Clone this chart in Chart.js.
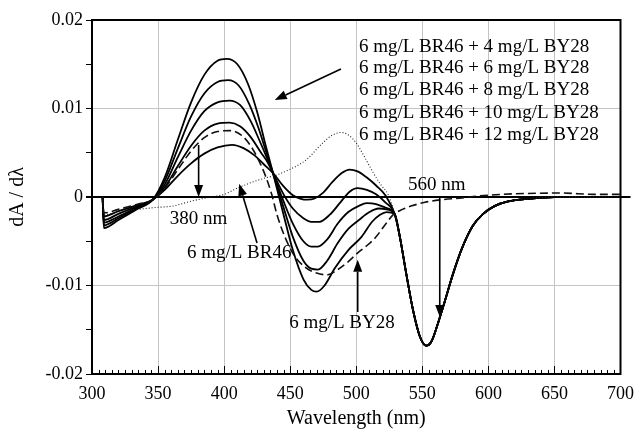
<!DOCTYPE html>
<html>
<head>
  <title>dA/dλ derivative spectra</title>
  <script src="https://cdn.jsdelivr.net/npm/chart.js"></script>
  <style>
    body { margin: 0; background: #fff; }
    canvas { display: block; }
  </style>
</head>
<body>
  <canvas id="spectra" width="643" height="431"></canvas>
  <script>
    // derivative spectra (x = wavelength nm, y = dA/dλ)
    const wlTicks = [300, 350, 400, 450, 500, 550, 600, 650, 700];
    const yTicks = [-0.02, -0.01, 0, 0.01, 0.02];

    // shared part of all BR46-containing curves past ~530 nm
    const tailWl  = [533, 538, 543, 548, 553, 557, 562, 567, 573, 580, 588, 596, 605, 615, 630, 650, 700];
    const tailVal = [-0.0045, -0.0088, -0.0128, -0.0157, -0.0168, -0.0163, -0.0142, -0.0118, -0.0088, -0.0058, -0.0033, -0.0019, -0.0010, -0.0005, -0.0002, 0, 0];

    const mix4Wl  = [308, 309, 320, 335, 346, 355, 365, 375, 385, 395, 406, 415, 423, 430, 437, 445, 452, 458, 463, 468, 475, 482, 489, 495, 501, 508, 515, 522, 529];
    const mix4Val = [0, -0.0022, -0.0016, -0.0009, -0.0003, 0.0008, 0.0024, 0.0038, 0.0049, 0.0056, 0.0059, 0.0055, 0.0047, 0.0037, 0.0027, 0.0012, 0.0002, -0.0002, -0.0003, -0.0002, 0.0005, 0.0017, 0.0027, 0.0031, 0.0029, 0.0022, 0.0013, 0.0002, -0.0019];

    const mix6Wl  = [308, 309, 320, 335, 346, 355, 365, 375, 385, 395, 404, 412, 420, 428, 433, 437, 445, 452, 460, 466, 472, 480, 488, 495, 501, 508, 515, 522, 529];
    const mix6Val = [0, -0.0026, -0.0019, -0.0010, -0.0003, 0.0011, 0.0035, 0.0058, 0.0075, 0.0083, 0.0084, 0.0080, 0.0068, 0.0050, 0.0039, 0.0027, 0.0003, -0.0013, -0.0024, -0.0028, -0.0028, -0.0020, -0.0006, 0.0006, 0.0010, 0.0008, 0.0003, -0.0006, -0.0019];

    const mix8Wl  = [308, 309, 320, 335, 346, 355, 365, 375, 385, 395, 404, 412, 420, 427, 433, 437, 445, 452, 460, 466, 471, 478, 486, 494, 502, 508, 515, 522, 529];
    const mix8Val = [0, -0.0029, -0.0022, -0.0011, -0.0003, 0.0014, 0.0045, 0.0075, 0.0097, 0.0107, 0.0109, 0.0104, 0.0086, 0.0063, 0.0042, 0.0027, -0.0005, -0.0030, -0.0050, -0.0056, -0.0056, -0.0048, -0.0030, -0.0017, -0.0010, -0.0007, -0.0008, -0.0012, -0.0019];

    const mix10Wl  = [308, 309, 320, 335, 346, 355, 365, 375, 385, 395, 403, 411, 419, 426, 432, 437, 445, 452, 460, 466, 471, 478, 486, 494, 502, 510, 517, 523, 529];
    const mix10Val = [0, -0.0032, -0.0024, -0.0012, -0.0003, 0.0018, 0.0055, 0.0091, 0.0117, 0.0130, 0.0132, 0.0126, 0.0105, 0.0078, 0.0050, 0.0027, -0.0012, -0.0045, -0.0072, -0.0081, -0.0082, -0.0072, -0.0052, -0.0036, -0.0026, -0.0017, -0.0013, -0.0014, -0.0019];

    const mix12Wl  = [308, 309, 320, 335, 346, 355, 365, 375, 385, 395, 402, 410, 418, 425, 432, 437, 445, 452, 460, 466, 470, 476, 484, 494, 504, 512, 518, 523, 529];
    const mix12Val = [0, -0.0035, -0.0026, -0.0013, -0.0003, 0.0022, 0.0065, 0.0107, 0.0138, 0.0154, 0.0156, 0.0150, 0.0128, 0.0096, 0.0055, 0.0027, -0.0020, -0.0060, -0.0093, -0.0105, -0.0107, -0.0100, -0.0080, -0.0060, -0.0045, -0.0028, -0.0020, -0.0017, -0.0019];

    const br46Wl  = [308, 309, 320, 335, 347, 362, 372, 380, 390, 400, 410, 420, 430, 440, 448, 456, 463, 470, 476, 482, 489, 495, 500, 506, 513, 519, 524, 529];
    const br46Val = [0, -0.0020, -0.0017, -0.0014, -0.0012, -0.0010, -0.0006, -0.0003, 0.0000, 0.0003, 0.0010, 0.0016, 0.0021, 0.0025, 0.0030, 0.0036, 0.0043, 0.0054, 0.0063, 0.0070, 0.0073, 0.0069, 0.0061, 0.0046, 0.0027, 0.0013, 0.0003, -0.0019];

    const by28Wl  = [308, 309, 320, 335, 346, 355, 365, 375, 385, 395, 405, 413, 420, 426, 431, 436, 440, 446, 453, 462, 470, 478, 486, 494, 502, 508, 515, 522, 528, 535, 542, 552, 565, 580, 592, 610, 630, 655, 680, 700];
    const by28Val = [0, -0.0018, -0.0014, -0.0008, -0.0003, 0.0010, 0.0031, 0.0052, 0.0067, 0.0074, 0.0075, 0.0070, 0.0058, 0.0042, 0.0025, 0.0003, -0.0020, -0.0045, -0.0066, -0.0080, -0.0086, -0.0088, -0.0082, -0.0073, -0.0062, -0.0055, -0.0045, -0.0031, -0.0020, -0.0014, -0.0010, -0.0006, -0.0003, -0.0001, 0.0001, 0.0003, 0.0004, 0.00045, 0.0003, 0.0003];

    const mixLabels = [
      "6 mg/L BR46 + 4 mg/L BY28",
      "6 mg/L BR46 + 6 mg/L BY28",
      "6 mg/L BR46 + 8 mg/L BY28",
      "6 mg/L BR46 + 10 mg/L BY28",
      "6 mg/L BR46 + 12 mg/L BY28"
    ];
    const mixLabelY = [0.01695, 0.01458, 0.01209, 0.00949, 0.00701];

    // text notes and arrows, in data coordinates
    const notes = [
      { text: "380 nm",      x: 380.7, y: -0.0025 },
      { text: "560 nm",      x: 560.9, y: 0.00136 },
      { text: "6 mg/L BR46", x: 411.4, y: -0.0063 },
      { text: "6 mg/L BY28", x: 489.2, y: -0.01424 }
    ];
    const arrows = [
      { x1: 488.4, y1: 0.01446, x2: 438.3, y2: 0.01096 },
      { x1: 380.7, y1: 0.00588, x2: 380.7, y2: 0.0 },
      { x1: 424.9, y1: -0.0052, x2: 411.4, y2: 0.0015 },
      { x1: 501.1, y1: -0.0130, x2: 501.1, y2: -0.0071 },
      { x1: 563.2, y1: 0.0,     x2: 563.2, y2: -0.01356 }
    ];

    const SERIF = "'Liberation Serif', 'Times New Roman', serif";

    function pts(xs, ys) {
      return xs.map((x, i) => ({ x: x, y: ys[i] }));
    }
    function withTail(xs, ys) {
      return pts(xs.concat(tailWl), ys.concat(tailVal));
    }
    function line(label, data, opts) {
      return Object.assign({
        label: label,
        data: data,
        showLine: true,
        borderColor: "#000",
        borderWidth: 1.8,
        pointRadius: 0,
        cubicInterpolationMode: "monotone",
        fill: false
      }, opts || {});
    }

    const datasets = [
      line("BR46", withTail(br46Wl, br46Val), { borderColor: "#222", borderWidth: 1.1, borderDash: [1, 2] }),
      line("BY28", pts(by28Wl, by28Val), { borderColor: "#111", borderWidth: 1.6, borderDash: [8, 4] }),
      line(mixLabels[0], withTail(mix4Wl, mix4Val)),
      line(mixLabels[1], withTail(mix6Wl, mix6Val)),
      line(mixLabels[2], withTail(mix8Wl, mix8Val)),
      line(mixLabels[3], withTail(mix10Wl, mix10Val)),
      line(mixLabels[4], withTail(mix12Wl, mix12Val))
    ];

    function arrow(ctx, x1, y1, x2, y2) {
      const a = Math.atan2(y2 - y1, x2 - x1);
      const len = 12, half = 4.5;
      const bx = x2 - len * Math.cos(a), by = y2 - len * Math.sin(a);
      ctx.beginPath();
      ctx.moveTo(x1, y1);
      ctx.lineTo(bx, by);
      ctx.stroke();
      ctx.beginPath();
      ctx.moveTo(x2, y2);
      ctx.lineTo(bx + half * Math.sin(a), by - half * Math.cos(a));
      ctx.lineTo(bx - half * Math.sin(a), by + half * Math.cos(a));
      ctx.closePath();
      ctx.fill();
    }

    const decor = {
      id: "decor",
      beforeDatasetsDraw(chart) {
        const { ctx, chartArea: a, scales: { y } } = chart;
        const y0 = y.getPixelForValue(0);
        ctx.save();
        ctx.strokeStyle = "#000";
        ctx.lineWidth = 2;
        ctx.beginPath();
        ctx.moveTo(a.left - 6, y0);
        ctx.lineTo(a.right + 10, y0);
        ctx.stroke();
        ctx.restore();
      },
      afterDraw(chart) {
        const { ctx, chartArea: a, scales: { x, y } } = chart;
        ctx.save();
        // frame
        ctx.strokeStyle = "#000";
        ctx.lineWidth = 2;
        ctx.strokeRect(a.left, a.top, a.right - a.left, a.bottom - a.top);
        // minor ticks on bottom edge, pointing inward
        ctx.lineWidth = 1;
        ctx.beginPath();
        for (let w = 305; w < 700; w += 5) {
          const px = Math.round(x.getPixelForValue(w)) + 0.5;
          const len = w % 50 === 0 ? 8 : 4;
          ctx.moveTo(px, a.bottom);
          ctx.lineTo(px, a.bottom - len);
        }
        ctx.stroke();
        // texts
        ctx.fillStyle = "#000";
        ctx.font = "19px " + SERIF;
        ctx.textBaseline = "middle";
        ctx.textAlign = "left";
        const lx = x.getPixelForValue(502);
        mixLabels.forEach((t, i) => ctx.fillText(t, lx, y.getPixelForValue(mixLabelY[i])));
        ctx.textAlign = "center";
        notes.forEach(n => ctx.fillText(n.text, x.getPixelForValue(n.x), y.getPixelForValue(n.y)));
        // arrows
        ctx.strokeStyle = "#000";
        ctx.lineWidth = 1.6;
        arrows.forEach(r => arrow(ctx,
          x.getPixelForValue(r.x1), y.getPixelForValue(r.y1),
          x.getPixelForValue(r.x2), y.getPixelForValue(r.y2)));
        ctx.restore();
      }
    };

    new Chart(document.getElementById("spectra").getContext("2d"), {
      type: "scatter",
      data: { datasets: datasets },
      plugins: [decor],
      options: {
        responsive: false,
        animation: false,
        devicePixelRatio: 1,
        layout: { padding: { top: 20, right: 16, bottom: 0, left: 0 } },
        plugins: { legend: { display: false }, tooltip: { enabled: false } },
        scales: {
          x: {
            type: "linear",
            min: 300,
            max: 700,
            afterFit(s) { s.height = 57; },
            afterBuildTicks(s) { s.ticks = wlTicks.map(v => ({ value: v })); },
            ticks: { color: "#000", padding: 9, maxRotation: 0, autoSkip: false, font: { family: SERIF, size: 18 } },
            grid: {
              drawTicks: false,
              color: c => (c.tick && (c.tick.value === 300 || c.tick.value === 700)) ? "rgba(0,0,0,0)" : "#c4c4c4"
            },
            border: { color: "#000", width: 2 },
            title: { display: true, text: "Wavelength (nm)", color: "#000", padding: { top: 0, bottom: 0 }, font: { family: SERIF, size: 20 } }
          },
          y: {
            min: -0.02,
            max: 0.02,
            afterFit(s) { s.width = 92; },
            afterBuildTicks(s) {
              const t = [];
              for (let k = -4; k <= 4; k++) t.push({ value: k * 0.005 });
              s.ticks = t;
            },
            ticks: {
              color: "#000",
              padding: 3,
              font: { family: SERIF, size: 18 },
              callback: v => {
                const r = Math.round(v * 1000);
                if (r % 10 !== 0) return "";
                const i = yTicks.findIndex(t => Math.round(t * 1000) === r);
                return i < 0 ? "" : (r === 0 ? "0" : String(yTicks[i]));
              }
            },
            grid: {
              tickLength: 6,
              tickColor: "#000",
              color: c => {
                const r = c.tick ? Math.round(c.tick.value * 1000) : 1;
                return (r === 10 || r === -10) ? "#c4c4c4" : "rgba(0,0,0,0)";
              }
            },
            border: { color: "#000", width: 2 },
            title: { display: true, text: "dA / dλ", color: "#000", padding: { top: 6, bottom: 0 }, font: { family: SERIF, size: 20 } }
          }
        }
      }
    });
  </script>
</body>
</html>
